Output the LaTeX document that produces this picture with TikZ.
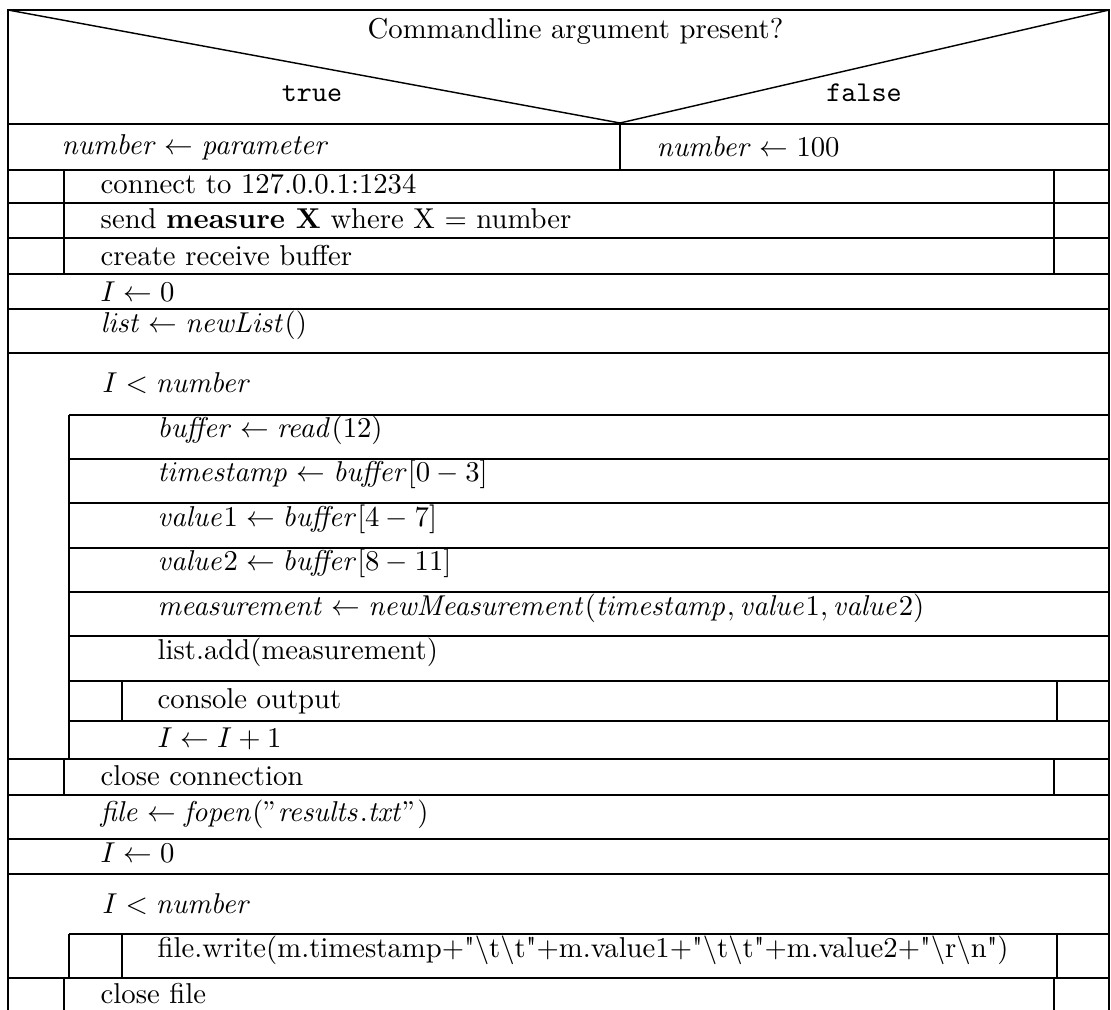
\documentclass[tikz,border=0pt]{standalone}
\newcommand{\idn}[1]{\mathit{#1}}
\begin{document}
\begin{tikzpicture}[x=0.3484pt,y=-0.3484pt,line width=0.5pt,
  txt/.style={anchor=base west,inner sep=0pt},
  lbl/.style={anchor=base,inner sep=0pt}]
\useasboundingbox (0,0) rectangle (1111,1010);
% outer frame and if-header
\draw (8,1010) -- (8,10) -- (1109,10) -- (1109,1010);
\draw (8,124) -- (1109,124);
\draw (8,10) -- (620,123) -- (1109,10);
\node[txt] (cond) at (367,39) {Commandline argument present?};
\node[lbl] (t) at (312,102) {\texttt{true}};
\node[lbl] (f) at (864,102) {\texttt{false}};
\draw (620,124) -- (620,170);
\node[txt] (numA) at (61,155) {$\idn{number} \leftarrow \idn{parameter}$};
\node[txt] (numB) at (656,157) {$\idn{number} \leftarrow 100$};
% horizontal separators (full width)
\foreach \yy in {170,203,238,274,309,353,759,795,839,874,978}
  \draw (8,\yy) -- (1109,\yy);
% inner loop boxes
\foreach \yy in {415,459,503,548,592,636,681,721,934}
  \draw (69,\yy) -- (1109,\yy);
\draw (69,415) -- (69,759);
\draw (69,934) -- (69,978);
% side columns
\draw (64,170) -- (64,274); \draw (1054,170) -- (1054,274);
\draw (64,759) -- (64,795); \draw (1054,759) -- (1054,795);
\draw (64,978) -- (64,1010); \draw (1054,978) -- (1054,1010);
\draw (122,681) -- (122,721); \draw (1057,681) -- (1057,721);
\draw (122,934) -- (122,978); \draw (1057,934) -- (1057,978);
% texts
\node[txt] (conn) at (100,194) {connect to 127.0.0.1:1234};
\node[txt] (send) at (100,229) {send \textbf{measure X} where X $=$ number};
\node[txt] (crbuf) at (100,266) {create receive buffer};
\node[txt] (izero) at (100,302) {$I \leftarrow 0$};
\node[txt] (lst) at (100,333) {$\idn{list} \leftarrow \idn{newList}()$};
\node[txt] (wh1) at (102,393) {$I < \idn{number}$};
\node[txt] (rd) at (157,438) {$\idn{buffer} \leftarrow \idn{read}(12)$};
\node[txt] (ts) at (157,482) {$\idn{timestamp} \leftarrow \idn{buffer}[0-3]$};
\node[txt] (v1) at (157,527) {$\idn{value}1 \leftarrow \idn{buffer}[4-7]$};
\node[txt] (v2) at (157,571) {$\idn{value}2 \leftarrow \idn{buffer}[8-11]$};
\node[txt] (ms) at (157,615) {$\idn{measurement} \leftarrow \idn{newMeasurement}(\idn{timestamp}, \idn{value}1, \idn{value}2)$};
\node[txt] (ladd) at (157,660) {list.add(measurement)};
\node[txt] (cons) at (157,708) {console output};
\node[txt] (inc) at (157,747) {$I \leftarrow I + 1$};
\node[txt] (cc) at (100,785) {close connection};
\node[txt] (fo) at (100,821) {$\idn{file} \leftarrow \idn{fopen}("\idn{results.txt}")$};
\node[txt] (izero2) at (100,862) {$I \leftarrow 0$};
\node[txt] (wh2) at (102,913) {$I < \idn{number}$};
\node[txt] (fw) at (157,957) {file.write(m.timestamp+\textquotedbl\textbackslash t\textbackslash t\textquotedbl+m.value1+\textquotedbl\textbackslash t\textbackslash t\textquotedbl+m.value2+\textquotedbl\textbackslash r\textbackslash n\textquotedbl)};
\node[txt] (cf) at (100,1003) {close file};
\end{tikzpicture}
\end{document}
